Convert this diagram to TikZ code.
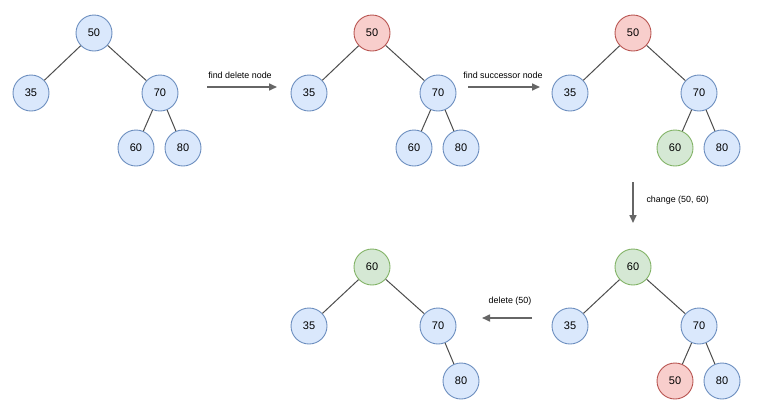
\documentclass[tikz,border=0pt]{standalone}
\usepackage{fontspec}
\setmainfont{Liberation Sans}
\usetikzlibrary{arrows.meta}
\definecolor{bfill}{HTML}{DAE8FC}\definecolor{bdraw}{HTML}{6C8EBF}
\definecolor{rfill}{HTML}{F8CECC}\definecolor{rdraw}{HTML}{B85450}
\definecolor{gfill}{HTML}{D5E8D4}\definecolor{gdraw}{HTML}{82B366}
\definecolor{edgec}{HTML}{4D4D4D}\definecolor{arrc}{HTML}{666666}
\tikzset{
  tn/.style={circle,minimum size=36pt,inner sep=0pt,line width=0.9pt,font=\fontsize{11}{13}\selectfont},
  bn/.style={tn,fill=bfill,draw=bdraw},
  rn/.style={tn,fill=rfill,draw=rdraw},
  gn/.style={tn,fill=gfill,draw=gdraw},
  te/.style={draw=edgec,line width=1pt},
  op/.style={draw=arrc,line width=1.6pt,-{Triangle[length=8pt,width=7pt]}},
  lab/.style={font=\fontsize{8.9}{10}\selectfont,text=black}
}
\begin{document}
\begin{tikzpicture}[x=1pt,y=-1pt]
\useasboundingbox (0,0) rectangle (774,416);
% tree 1
\node[bn] (a50) at (94,33) {50};
\node[bn] (a35) at (31,93) {35};
\node[bn] (a70) at (160,93) {70};
\node[bn] (a60) at (136,148) {60};
\node[bn] (a80) at (183,148) {80};
\draw[te] (a50)--(a35); \draw[te] (a50)--(a70); \draw[te] (a70)--(a60); \draw[te] (a70)--(a80);
% tree 2
\node[rn] (b50) at (372,33) {50};
\node[bn] (b35) at (309,93) {35};
\node[bn] (b70) at (438,93) {70};
\node[bn] (b60) at (414,148) {60};
\node[bn] (b80) at (461,148) {80};
\draw[te] (b50)--(b35); \draw[te] (b50)--(b70); \draw[te] (b70)--(b60); \draw[te] (b70)--(b80);
% tree 3
\node[rn] (c50) at (633,33) {50};
\node[bn] (c35) at (570,93) {35};
\node[bn] (c70) at (699,93) {70};
\node[gn] (c60) at (675,148) {60};
\node[bn] (c80) at (722,148) {80};
\draw[te] (c50)--(c35); \draw[te] (c50)--(c70); \draw[te] (c70)--(c60); \draw[te] (c70)--(c80);
% tree 4
\node[gn] (d60) at (633,267) {60};
\node[bn] (d35) at (570,326) {35};
\node[bn] (d70) at (699,326) {70};
\node[rn] (d50) at (675,381) {50};
\node[bn] (d80) at (722,381) {80};
\draw[te] (d60)--(d35); \draw[te] (d60)--(d70); \draw[te] (d70)--(d50); \draw[te] (d70)--(d80);
% tree 5
\node[gn] (e60) at (372,267) {60};
\node[bn] (e35) at (309,326) {35};
\node[bn] (e70) at (438,326) {70};
\node[bn] (e80) at (461,381) {80};
\draw[te] (e60)--(e35); \draw[te] (e60)--(e70); \draw[te] (e70)--(e80);
% operations
\coordinate (p1s) at (207,87); \coordinate (p1e) at (277,87);
\draw[op] (p1s)--(p1e);
\node[lab] (l1) at (240,75) {find delete node};
\coordinate (p2s) at (468,87); \coordinate (p2e) at (540,87);
\draw[op] (p2s)--(p2e);
\node[lab] (l2) at (503,75) {find successor node};
\coordinate (p3s) at (633,182); \coordinate (p3e) at (633,223);
\draw[op] (p3s)--(p3e);
\node[lab,anchor=west] (l3) at (643,200) {change (50, 60)};
\coordinate (p4s) at (532,318); \coordinate (p4e) at (482,318);
\draw[op] (p4s)--(p4e);
\node[lab] (l4) at (510,301) {delete (50)};
\end{tikzpicture}
\end{document}
